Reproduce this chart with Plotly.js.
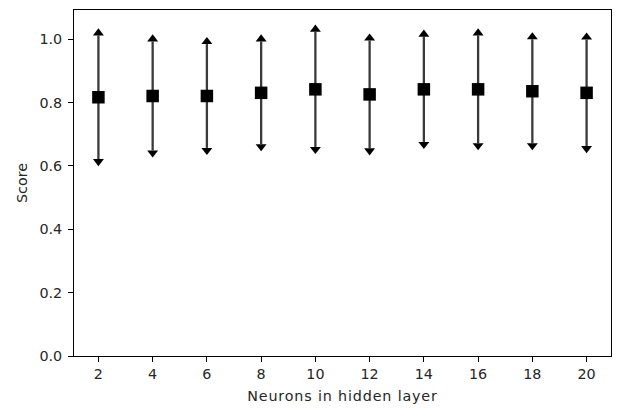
<!DOCTYPE html>
<html><head><meta charset="utf-8">
<script src="https://cdn.plot.ly/plotly-3.0.1.min.js"></script>
<style>html,body{margin:0;padding:0;background:#fff}
.xtitle{letter-spacing:0.85px}</style>
</head><body><div id="chart" style="width:618px;height:409px"></div>
<script>
const neurons = [2, 4, 6, 8, 10, 12, 14, 16, 18, 20];
const meanScore = [0.817, 0.821, 0.821, 0.831, 0.842, 0.826, 0.842, 0.842, 0.836, 0.831];
const stdScore = [0.195, 0.172, 0.164, 0.162, 0.182, 0.170, 0.166, 0.170, 0.164, 0.168];
const xTickVals = [2, 4, 6, 8, 10, 12, 14, 16, 18, 20];
const yTickVals = [0, 0.2, 0.4, 0.6, 0.8, 1.0];
const yTickText = ['0.0', '0.2', '0.4', '0.6', '0.8', '1.0'];

const upper = meanScore.map((m, i) => m + stdScore[i]);
const lower = meanScore.map((m, i) => m - stdScore[i]);

const FONT = 'DejaVu Sans, sans-serif';
const lineColor = '#3a3a3a';
const textColor = '#262626';

const traces = [
  {
    x: neurons, y: meanScore, type: 'scatter', mode: 'markers',
    marker: {symbol: 'square', size: 12.5, color: '#000'},
    error_y: {type: 'data', array: stdScore, symmetric: true, thickness: 2.3, width: 0, color: lineColor},
    hoverinfo: 'skip', showlegend: false
  },
  {
    x: neurons, y: upper, type: 'scatter', mode: 'markers',
    marker: {symbol: 'triangle-down', size: 9.5, color: '#000', angle: 180, standoff: 2.4},
    hoverinfo: 'skip', showlegend: false
  },
  {
    x: neurons, y: lower, type: 'scatter', mode: 'markers',
    marker: {symbol: 'triangle-down', size: 9.5, color: '#000', angle: 0, standoff: 2.4},
    hoverinfo: 'skip', showlegend: false
  }
];

const axisCommon = {
  showline: true, linecolor: '#000', linewidth: 1, mirror: true,
  ticks: 'outside', ticklen: 5, tickwidth: 1, tickcolor: '#000',
  showgrid: false, zeroline: false,
  tickfont: {family: FONT, size: 14.3, color: textColor}
};

const layout = {
  width: 618, height: 409,
  margin: {l: 74, r: 7, t: 10, b: 53},
  paper_bgcolor: '#fff', plot_bgcolor: '#fff',
  font: {family: FONT, size: 14.3, color: textColor},
  xaxis: Object.assign({}, axisCommon, {
    range: [1.1, 20.9], tickmode: 'array', tickvals: xTickVals,
    title: {text: 'Neurons in hidden layer', font: {family: FONT, size: 14.3, color: textColor}, standoff: 9}
  }),
  yaxis: Object.assign({}, axisCommon, {
    range: [0, 1.0925], tickmode: 'array', tickvals: yTickVals, ticktext: yTickText,
    ticklabelstandoff: 3,
    title: {text: 'Score', font: {family: FONT, size: 14.3, color: textColor}, standoff: 8}
  }),
  showlegend: false
};

Plotly.newPlot('chart', traces, layout, {staticPlot: true, displayModeBar: false});
</script></body></html>
